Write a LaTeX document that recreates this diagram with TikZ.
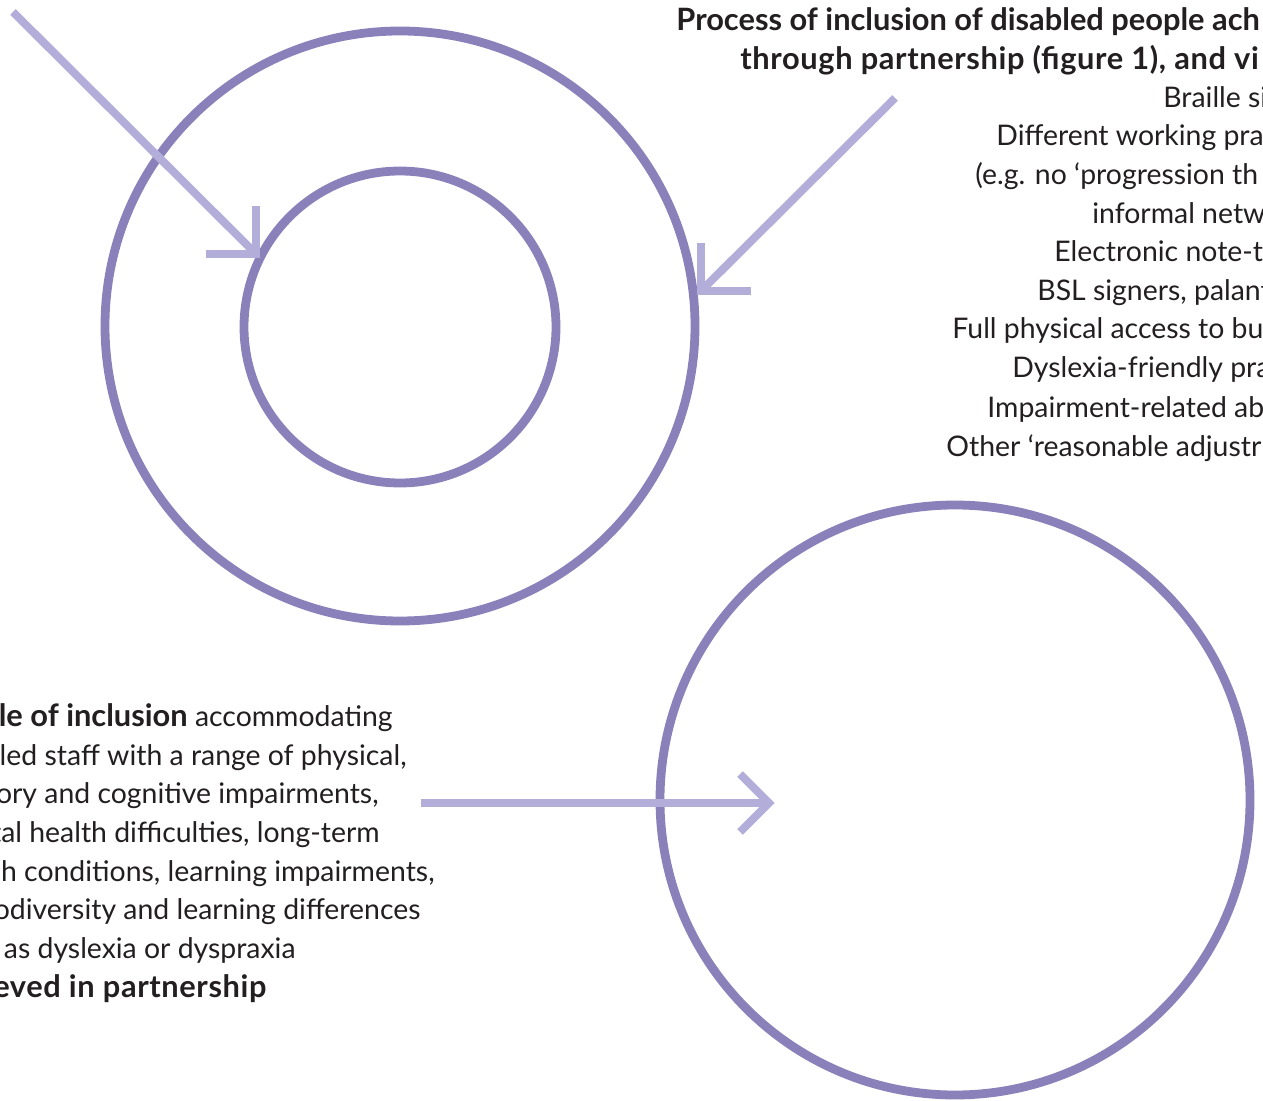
\documentclass[tikz,border=0pt]{standalone}
\usepackage{fontspec}
\setmainfont{Lato}
\usetikzlibrary{calc}
\definecolor{ringc}{RGB}{138,128,186}
\definecolor{arrc}{RGB}{179,174,217}
\definecolor{txt}{RGB}{35,31,32}
\newcommand{\regf}{\fontsize{14.2}{17}\selectfont}
\newcommand{\boldf}{\bfseries\fontsize{15.4}{18}\selectfont}
\newcommand{\boldw}{\bfseries\fontsize{15.4}{18}\selectfont\addfontfeature{LetterSpace=2}}
\begin{document}
\begin{tikzpicture}[x=0.5pt,y=-0.5pt,
  ring/.style={circle,draw=ringc,line width=4.4pt,inner sep=0pt},
  shaft/.style={draw=arrc,line width=4pt},
  head/.style={draw=arrc,line width=4pt,miter limit=10},
  rtxt/.style={anchor=base west,inner sep=0pt,text=txt,font=\regf},
  ltxt/.style={anchor=base east,inner sep=0pt,text=txt,font=\regf}]
\useasboundingbox (0,0) rectangle (1263,1101);
\clip (0,0) rectangle (1263,1101);
\fill[white] (0,0) rectangle (1263,1101);
% circles
\node[ring,minimum size=295pt] (outer) at (400,326) {};
\node[ring,minimum size=156pt] (inner) at (400,327) {};
\node[ring,minimum size=295pt] (big) at (955,800) {};
% arrow coordinates
\coordinate (s1) at (13,12);
\coordinate (h1) at (256,254);
\coordinate (s2) at (895,98);
\coordinate (h2) at (701,291);
\coordinate (s3) at (421,803);
\coordinate (h3) at (769,803);
% arrows
\draw[shaft] (s1) -- ($(h1)+(-3,-3)$);
\draw[head] ($(h1)+(-50,0)$) -- (h1) -- ($(h1)+(0,-48)$);
\draw[shaft] (s2) -- ($(h2)+(3,-3)$);
\draw[head] ($(h2)+(0,-48)$) -- (h2) -- ($(h2)+(50,0)$);
\draw[shaft] (s3) -- ($(h3)+(-4,0)$);
\draw[head] ($(h3)+(-29,-29)$) -- (h3) -- ($(h3)+(-29,29)$);
% top-right text
\node[rtxt,font=\boldf] (t1) at (676,31) {Process of inclusion of disabled people ach};
\node[rtxt,font=\boldw] (t2) at (740,70) {through partnership (figure 1), and vi};
\node[rtxt] (t3) at (1163,108) {Braille si};
\node[rtxt] (t4) at (996,146) {Different working pra};
\node[rtxt] (t5) at (975,185) {(e.g. no ‘progression th};
\node[rtxt] (t6) at (1092,224) {informal netw};
\node[rtxt] (t7) at (1054,262) {Electronic note-t};
\node[rtxt] (t8) at (1037,301) {BSL signers, palant};
\node[rtxt] (t9) at (952,339) {Full physical access to bu};
\node[rtxt] (t10) at (1012,378) {Dyslexia-friendly pra};
\node[rtxt] (t11) at (987,417) {Impairment-related ab};
\node[rtxt] (t12) at (946,456) {Other ‘reasonable adjustr};
% bottom-left text
\node[ltxt] (b1) at (393,726) {{\boldf le of inclusion} accommodating};
\node[ltxt] (b2) at (407,765) {bled staff with a range of physical,};
\node[ltxt] (b3) at (379,803) {ory and cognitive impairments,};
\node[ltxt] (b4) at (380,842) {tal health difficulties, long-term};
\node[ltxt] (b5) at (435,881) {h conditions, learning impairments,};
\node[ltxt] (b6) at (421,919) {odiversity and learning differences};
\node[ltxt] (b7) at (296,958) {as dyslexia or dyspraxia};
\node[ltxt,font=\boldw] (b8) at (267,997) {eved in partnership};
\end{tikzpicture}
\end{document}
